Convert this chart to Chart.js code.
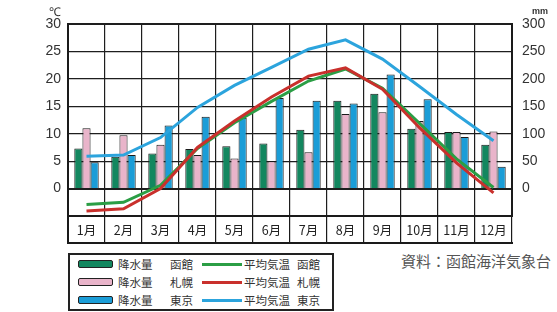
<!DOCTYPE html>
<html>
<head>
<meta charset="utf-8">
<script src="https://cdn.jsdelivr.net/npm/chart.js@4"></script>
<style>
  body { margin: 0; background: #fff; font-family: "Noto Sans CJK JP", sans-serif; }
  #wrap { position: relative; width: 557px; height: 312px; }
  #chart { position: absolute; left: 0; top: 0; }
  .unit { position: absolute; color: #333; font-family: "Liberation Sans", Arial, sans-serif; }
  #legend {
    position: absolute; left: 68px; top: 253px; width: 262px; height: 54px;
    border: 2px solid #222; display: grid; grid-template-columns: 132px 128px;
    grid-auto-rows: 18px; font-size: 11.5px; color: #333;
  }
  .item { display: flex; align-items: center; white-space: nowrap; }
  .sw-bar { width: 33px; height: 6px; border: 1.5px solid #222; border-radius: 2px; margin: 0 5px 0 8px; }
  .sw-line { width: 40px; height: 3px; margin-right: 2px; }
  #source { position: absolute; left: 401px; top: 250px; font-size: 15px; color: #555; }
</style>
</head>
<body>
<div id="wrap">
  <canvas id="chart" width="557" height="250"></canvas>
  <div class="unit" style="left:49px;top:3px;font-size:12px;">℃</div>
  <div class="unit" style="left:532px;top:6px;font-size:9px;font-weight:bold;">mm</div>
  <div id="legend"></div>
  <div id="source">資料：函館海洋気象台</div>
</div>
<script>
const months = ['1月', '2月', '3月', '4月', '5月', '6月', '7月', '8月', '9月', '10月', '11月', '12月'];
const cities = ['函館', '札幌', '東京'];

// 降水量 (mm)
const precipHakodate = [73, 58, 64, 72, 77, 82, 107, 160, 173, 109, 103, 80];
const precipSapporo = [110, 97, 80, 61, 55, 50, 66, 136, 139, 123, 103, 104];
const precipTokyo = [48, 61, 115, 131, 129, 165, 160, 155, 208, 163, 94, 40];

// 平均気温 (℃)
const tempHakodate = [-2.9, -2.5, 0.6, 7.3, 12.0, 15.9, 19.6, 21.8, 18.3, 11.9, 5.4, 0.2];
const tempSapporo = [-4.1, -3.7, 0.0, 7.5, 12.3, 16.7, 20.5, 22.0, 18.1, 11.1, 4.7, -0.8];
const tempTokyo = [5.9, 6.1, 9.3, 14.8, 18.8, 22.1, 25.4, 27.1, 23.6, 18.6, 13.5, 8.7];

const tempTicks = [-5, 0, 5, 10, 15, 20, 25, 30];
const precipTicks = [-50, 0, 50, 100, 150, 200, 250, 300];

const barColors = ['#13875f', '#e9b4ca', '#1b9dd7'];
const lineColors = ['#2b9e45', '#c9302c', '#2ca4dd'];

const precip = [precipHakodate, precipSapporo, precipTokyo];
const temps = [tempHakodate, tempSapporo, tempTokyo];

const datasets = [];
precip.forEach((d, i) => {
  datasets.push({
    type: 'bar', label: '降水量', city: cities[i], data: d, yAxisID: 'y1',
    backgroundColor: barColors[i], borderColor: '#1a1a1a', borderWidth: 1,
    barPercentage: 1, categoryPercentage: 0.66, order: 3
  });
});
temps.forEach((d, i) => {
  datasets.push({
    type: 'line', label: '平均気温', city: cities[i], data: d, yAxisID: 'y',
    borderColor: lineColors[i], borderWidth: 3, pointRadius: 0, tension: 0,
    order: i === 2 ? 0 : (i === 1 ? 1 : 2)
  });
});

const rowLine = {
  id: 'rowLine',
  afterDraw(chart) {
    const { ctx, chartArea } = chart;
    const y = chart.scales.x.bottom;
    ctx.save();
    ctx.strokeStyle = '#1a1a1a';
    ctx.lineWidth = 2;
    ctx.beginPath();
    ctx.moveTo(chartArea.left - 1, y - 1);
    ctx.lineTo(chartArea.right + 1, y - 1);
    ctx.stroke();
    ctx.restore();
  }
};

const tickFont = { family: '"Liberation Sans", Arial, sans-serif', size: 14 };

const chart = new Chart(document.getElementById('chart'), {
  data: { labels: months, datasets: datasets },
  options: {
    responsive: false,
    animation: false,
    layout: { padding: { top: 24, left: 0, right: 0, bottom: 6 } },
    plugins: { legend: { display: false }, tooltip: { enabled: false } },
    scales: {
      x: {
        offset: true,
        grid: {
          offset: true, color: '#1e1e1e', tickLength: 28, tickColor: '#1a1a1a',
          lineWidth: c => (c.index === 0 || c.index === months.length) ? 2 : 1.2,
          tickWidth: c => (c.index === 0 || c.index === months.length) ? 2 : 1.2
        },
        border: { color: '#1a1a1a', width: 2 },
        ticks: { padding: -21, color: '#222', maxRotation: 0, font: { family: '"Noto Sans CJK JP", sans-serif', size: 12.5 } },
        afterFit: s => { s.height = 28; }
      },
      y: {
        position: 'left', min: tempTicks[0], max: tempTicks[tempTicks.length - 1],
        afterBuildTicks: s => { s.ticks = tempTicks.map(v => ({ value: v })); },
        grid: {
          color: '#1e1e1e', drawTicks: false,
          lineWidth: c => (c.tick && (c.tick.value === 0 || c.tick.value === 30)) ? 2 : 1.2
        },
        border: { color: '#1a1a1a', width: 2 },
        ticks: { padding: 7, color: '#333', font: tickFont, callback: v => v < 0 ? '' : v },
        afterFit: s => { s.width = 68; }
      },
      y1: {
        position: 'right', min: precipTicks[0], max: precipTicks[precipTicks.length - 1],
        afterBuildTicks: s => { s.ticks = precipTicks.map(v => ({ value: v })); },
        grid: { drawOnChartArea: false, drawTicks: false },
        border: { color: '#1a1a1a', width: 2 },
        ticks: { padding: 10, color: '#333', font: tickFont, callback: v => v < 0 ? '' : v },
        afterFit: s => { s.width = 45; }
      }
    }
  },
  plugins: [rowLine]
});

// legend built from the datasets
const legend = document.getElementById('legend');
const bars = chart.data.datasets.filter(d => d.type === 'bar');
const lines = chart.data.datasets.filter(d => d.type === 'line');
bars.forEach((b, i) => {
  const l = lines[i];
  const a = document.createElement('div');
  a.className = 'item';
  a.innerHTML = '<span class="sw-bar" style="background:' + b.backgroundColor + '"></span>' +
    '<span style="width:52px">' + b.label + '</span><span>' + b.city + '</span>';
  const c = document.createElement('div');
  c.className = 'item';
  c.innerHTML = '<span class="sw-line" style="background:' + l.borderColor + '"></span>' +
    '<span style="width:53px">' + l.label + '</span><span>' + l.city + '</span>';
  legend.appendChild(a);
  legend.appendChild(c);
});
</script>
</body>
</html>
